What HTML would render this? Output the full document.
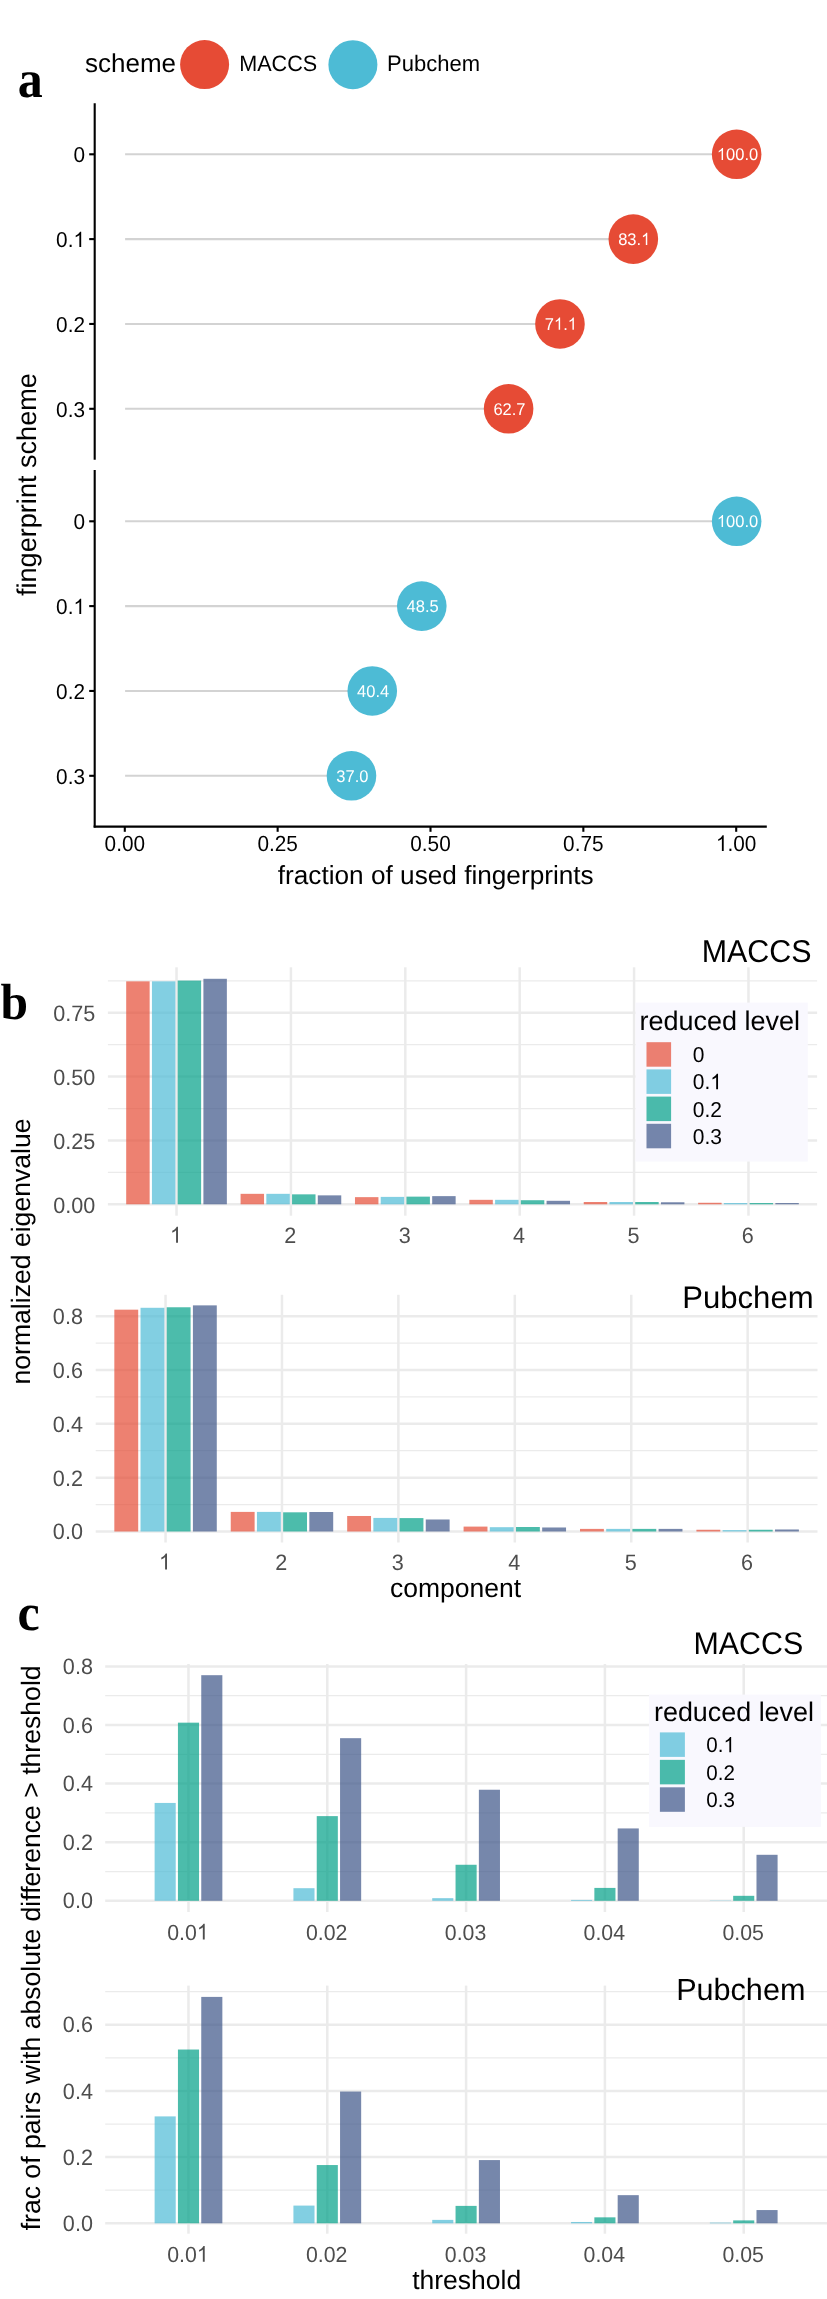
<!DOCTYPE html>
<html><head><meta charset="utf-8"><title>figure</title>
<style>
html,body{margin:0;padding:0;background:#fff;}
svg{display:block;will-change:transform;}
text{text-rendering:geometricPrecision;}
</style></head>
<body>
<svg width="827" height="2299" viewBox="0 0 827 2299">
<rect x="0" y="0" width="827" height="2299" fill="#fff"/>
<text x="0" y="0" text-anchor="start" fill="#000" style='font-family:"Liberation Serif", serif;font-size:50px;font-weight:bold' transform="translate(17.7,96.8) scale(1,1.06)">a</text>
<text x="0" y="0" text-anchor="start" fill="#000" style='font-family:"Liberation Serif", serif;font-size:49.5px;font-weight:bold' transform="translate(0.6,1018.8) scale(1,1.03)">b</text>
<text x="0" y="0" text-anchor="start" fill="#000" style='font-family:"Liberation Serif", serif;font-size:50px;font-weight:bold' transform="translate(17.4,1629.7) scale(1,1.04)">c</text>
<text x="85" y="72" text-anchor="start" fill="#000" style='font-family:"Liberation Sans", sans-serif;font-size:26px;font-weight:normal'>scheme</text>
<circle cx="204.6" cy="64.6" r="24.5" fill="#E64B35"/>
<text x="0" y="0" text-anchor="start" fill="#000" style='font-family:"Liberation Sans", sans-serif;font-size:21.6px;font-weight:normal' transform="translate(239.2,71) scale(1,1.03)">MACCS</text>
<circle cx="352.9" cy="64.7" r="24.5" fill="#4DBBD5"/>
<text x="0" y="0" text-anchor="start" fill="#000" style='font-family:"Liberation Sans", sans-serif;font-size:22px;font-weight:normal' transform="translate(387.1,70.7) scale(1,1.02)">Pubchem</text>
<line x1="94.7" y1="103.2" x2="94.7" y2="459.8" stroke="#000" stroke-width="2.1" stroke-linecap="butt"/>
<line x1="94.7" y1="470.1" x2="94.7" y2="827.6" stroke="#000" stroke-width="2.1" stroke-linecap="butt"/>
<line x1="93.65" y1="826.6" x2="766.8" y2="826.6" stroke="#000" stroke-width="2.1" stroke-linecap="butt"/>
<line x1="89.2" y1="154.3" x2="94.7" y2="154.3" stroke="#000" stroke-width="2.1" stroke-linecap="butt"/>
<text x="0" y="0" text-anchor="end" fill="#000" style='font-family:"Liberation Sans", sans-serif;font-size:20.8px;font-weight:normal' transform="translate(85,162.28) scale(1,1.03)">0</text>
<line x1="89.2" y1="239.1" x2="94.7" y2="239.1" stroke="#000" stroke-width="2.1" stroke-linecap="butt"/>
<g transform="translate(56.09,247.08) scale(1,1.03)"><text x="0" y="0" fill="#000" style='font-family:"Liberation Sans", sans-serif;font-size:20.8px'>0. </text><path d="M763 0L583 0L583 1147Q518 1085 412.5 1023Q307 961 223 930L223 1104Q374 1175 487 1276Q600 1377 647 1472L763 1472Z" fill="#000" transform="translate(17.35,0) scale(0.01016,-0.01016)"/></g>
<line x1="89.2" y1="323.95" x2="94.7" y2="323.95" stroke="#000" stroke-width="2.1" stroke-linecap="butt"/>
<text x="0" y="0" text-anchor="end" fill="#000" style='font-family:"Liberation Sans", sans-serif;font-size:20.8px;font-weight:normal' transform="translate(85,331.93) scale(1,1.03)">0.2</text>
<line x1="89.2" y1="408.8" x2="94.7" y2="408.8" stroke="#000" stroke-width="2.1" stroke-linecap="butt"/>
<text x="0" y="0" text-anchor="end" fill="#000" style='font-family:"Liberation Sans", sans-serif;font-size:20.8px;font-weight:normal' transform="translate(85,416.78) scale(1,1.03)">0.3</text>
<line x1="89.2" y1="521.3" x2="94.7" y2="521.3" stroke="#000" stroke-width="2.1" stroke-linecap="butt"/>
<text x="0" y="0" text-anchor="end" fill="#000" style='font-family:"Liberation Sans", sans-serif;font-size:20.8px;font-weight:normal' transform="translate(85,529.28) scale(1,1.03)">0</text>
<line x1="89.2" y1="606.1" x2="94.7" y2="606.1" stroke="#000" stroke-width="2.1" stroke-linecap="butt"/>
<g transform="translate(56.09,614.08) scale(1,1.03)"><text x="0" y="0" fill="#000" style='font-family:"Liberation Sans", sans-serif;font-size:20.8px'>0. </text><path d="M763 0L583 0L583 1147Q518 1085 412.5 1023Q307 961 223 930L223 1104Q374 1175 487 1276Q600 1377 647 1472L763 1472Z" fill="#000" transform="translate(17.35,0) scale(0.01016,-0.01016)"/></g>
<line x1="89.2" y1="690.95" x2="94.7" y2="690.95" stroke="#000" stroke-width="2.1" stroke-linecap="butt"/>
<text x="0" y="0" text-anchor="end" fill="#000" style='font-family:"Liberation Sans", sans-serif;font-size:20.8px;font-weight:normal' transform="translate(85,698.93) scale(1,1.03)">0.2</text>
<line x1="89.2" y1="775.8" x2="94.7" y2="775.8" stroke="#000" stroke-width="2.1" stroke-linecap="butt"/>
<text x="0" y="0" text-anchor="end" fill="#000" style='font-family:"Liberation Sans", sans-serif;font-size:20.8px;font-weight:normal' transform="translate(85,783.78) scale(1,1.03)">0.3</text>
<line x1="124.8" y1="826.6" x2="124.8" y2="831.8" stroke="#000" stroke-width="2.1" stroke-linecap="butt"/>
<text x="0" y="0" text-anchor="middle" fill="#000" style='font-family:"Liberation Sans", sans-serif;font-size:20.8px;font-weight:normal' transform="translate(124.8,851) scale(1,1.05)">0.00</text>
<line x1="277.65" y1="826.6" x2="277.65" y2="831.8" stroke="#000" stroke-width="2.1" stroke-linecap="butt"/>
<text x="0" y="0" text-anchor="middle" fill="#000" style='font-family:"Liberation Sans", sans-serif;font-size:20.8px;font-weight:normal' transform="translate(277.65,851) scale(1,1.05)">0.25</text>
<line x1="430.5" y1="826.6" x2="430.5" y2="831.8" stroke="#000" stroke-width="2.1" stroke-linecap="butt"/>
<text x="0" y="0" text-anchor="middle" fill="#000" style='font-family:"Liberation Sans", sans-serif;font-size:20.8px;font-weight:normal' transform="translate(430.5,851) scale(1,1.05)">0.50</text>
<line x1="583.35" y1="826.6" x2="583.35" y2="831.8" stroke="#000" stroke-width="2.1" stroke-linecap="butt"/>
<text x="0" y="0" text-anchor="middle" fill="#000" style='font-family:"Liberation Sans", sans-serif;font-size:20.8px;font-weight:normal' transform="translate(583.35,851) scale(1,1.05)">0.75</text>
<line x1="736.2" y1="826.6" x2="736.2" y2="831.8" stroke="#000" stroke-width="2.1" stroke-linecap="butt"/>
<g transform="translate(715.96,851) scale(1,1.05)"><text x="0" y="0" fill="#000" style='font-family:"Liberation Sans", sans-serif;font-size:20.8px'> .00</text><path d="M763 0L583 0L583 1147Q518 1085 412.5 1023Q307 961 223 930L223 1104Q374 1175 487 1276Q600 1377 647 1472L763 1472Z" fill="#000" transform="translate(0,0) scale(0.01016,-0.01016)"/></g>
<line x1="125.1" y1="154.3" x2="736.2" y2="154.3" stroke="#D3D3D3" stroke-width="2.1" stroke-linecap="butt"/>
<line x1="125.1" y1="239.1" x2="632.87" y2="239.1" stroke="#D3D3D3" stroke-width="2.1" stroke-linecap="butt"/>
<line x1="125.1" y1="323.95" x2="559.51" y2="323.95" stroke="#D3D3D3" stroke-width="2.1" stroke-linecap="butt"/>
<line x1="125.1" y1="408.8" x2="508.15" y2="408.8" stroke="#D3D3D3" stroke-width="2.1" stroke-linecap="butt"/>
<line x1="125.1" y1="521.3" x2="736.2" y2="521.3" stroke="#D3D3D3" stroke-width="2.1" stroke-linecap="butt"/>
<line x1="125.1" y1="606.1" x2="421.33" y2="606.1" stroke="#D3D3D3" stroke-width="2.1" stroke-linecap="butt"/>
<line x1="125.1" y1="690.95" x2="371.81" y2="690.95" stroke="#D3D3D3" stroke-width="2.1" stroke-linecap="butt"/>
<line x1="125.1" y1="775.8" x2="351.02" y2="775.8" stroke="#D3D3D3" stroke-width="2.1" stroke-linecap="butt"/>
<circle cx="736.65" cy="154.3" r="24.8" fill="#E64B35"/>
<g transform="translate(716.9,160.1) scale(1,1.03)"><text x="0" y="0" fill="#fff" style='font-family:"Liberation Sans", sans-serif;font-size:16.5px'> 00.0</text><path d="M763 0L583 0L583 1147Q518 1085 412.5 1023Q307 961 223 930L223 1104Q374 1175 487 1276Q600 1377 647 1472L763 1472Z" fill="#fff" transform="translate(0,0) scale(0.00806,-0.00806)"/></g>
<circle cx="633.32" cy="239.1" r="24.8" fill="#E64B35"/>
<g transform="translate(618.17,244.9) scale(1,1.03)"><text x="0" y="0" fill="#fff" style='font-family:"Liberation Sans", sans-serif;font-size:16.5px'>83. </text><path d="M763 0L583 0L583 1147Q518 1085 412.5 1023Q307 961 223 930L223 1104Q374 1175 487 1276Q600 1377 647 1472L763 1472Z" fill="#fff" transform="translate(22.94,0) scale(0.00806,-0.00806)"/></g>
<circle cx="559.96" cy="323.95" r="24.8" fill="#E64B35"/>
<g transform="translate(544.8,329.75) scale(1,1.03)"><text x="0" y="0" fill="#fff" style='font-family:"Liberation Sans", sans-serif;font-size:16.5px'>7 . </text><path d="M763 0L583 0L583 1147Q518 1085 412.5 1023Q307 961 223 930L223 1104Q374 1175 487 1276Q600 1377 647 1472L763 1472Z" fill="#fff" transform="translate(9.18,0) scale(0.00806,-0.00806)"/><path d="M763 0L583 0L583 1147Q518 1085 412.5 1023Q307 961 223 930L223 1104Q374 1175 487 1276Q600 1377 647 1472L763 1472Z" fill="#fff" transform="translate(22.94,0) scale(0.00806,-0.00806)"/></g>
<circle cx="508.6" cy="408.8" r="24.8" fill="#E64B35"/>
<text x="0" y="0" text-anchor="middle" fill="#fff" style='font-family:"Liberation Sans", sans-serif;font-size:16.5px;font-weight:normal' transform="translate(509.5,414.6) scale(1,1.03)">62.7</text>
<circle cx="736.65" cy="521.3" r="24.8" fill="#4DBBD5"/>
<g transform="translate(716.9,527.1) scale(1,1.03)"><text x="0" y="0" fill="#fff" style='font-family:"Liberation Sans", sans-serif;font-size:16.5px'> 00.0</text><path d="M763 0L583 0L583 1147Q518 1085 412.5 1023Q307 961 223 930L223 1104Q374 1175 487 1276Q600 1377 647 1472L763 1472Z" fill="#fff" transform="translate(0,0) scale(0.00806,-0.00806)"/></g>
<circle cx="421.78" cy="606.1" r="24.8" fill="#4DBBD5"/>
<text x="0" y="0" text-anchor="middle" fill="#fff" style='font-family:"Liberation Sans", sans-serif;font-size:16.5px;font-weight:normal' transform="translate(422.68,611.9) scale(1,1.03)">48.5</text>
<circle cx="372.26" cy="690.95" r="24.8" fill="#4DBBD5"/>
<text x="0" y="0" text-anchor="middle" fill="#fff" style='font-family:"Liberation Sans", sans-serif;font-size:16.5px;font-weight:normal' transform="translate(373.16,696.75) scale(1,1.03)">40.4</text>
<circle cx="351.47" cy="775.8" r="24.8" fill="#4DBBD5"/>
<text x="0" y="0" text-anchor="middle" fill="#fff" style='font-family:"Liberation Sans", sans-serif;font-size:16.5px;font-weight:normal' transform="translate(352.37,781.6) scale(1,1.03)">37.0</text>
<text x="277.8" y="883.8" text-anchor="start" fill="#000" style='font-family:"Liberation Sans", sans-serif;font-size:26.2px;font-weight:normal'>fraction of used fingerprints</text>
<text x="0" y="0" text-anchor="start" fill="#000" style='font-family:"Liberation Sans", sans-serif;font-size:27.1px;font-weight:normal' transform="translate(35.9,596.0) rotate(-90)">fingerprint scheme</text>
<line x1="107.9" y1="1172.38" x2="817.1" y2="1172.38" stroke="#EBEBEB" stroke-width="1.25" stroke-linecap="butt"/>
<line x1="107.9" y1="1108.52" x2="817.1" y2="1108.52" stroke="#EBEBEB" stroke-width="1.25" stroke-linecap="butt"/>
<line x1="107.9" y1="1044.67" x2="817.1" y2="1044.67" stroke="#EBEBEB" stroke-width="1.25" stroke-linecap="butt"/>
<line x1="107.9" y1="980.82" x2="817.1" y2="980.82" stroke="#EBEBEB" stroke-width="1.25" stroke-linecap="butt"/>
<line x1="107.9" y1="1204.3" x2="817.1" y2="1204.3" stroke="#EBEBEB" stroke-width="2.5" stroke-linecap="butt"/>
<line x1="107.9" y1="1140.45" x2="817.1" y2="1140.45" stroke="#EBEBEB" stroke-width="2.5" stroke-linecap="butt"/>
<line x1="107.9" y1="1076.6" x2="817.1" y2="1076.6" stroke="#EBEBEB" stroke-width="2.5" stroke-linecap="butt"/>
<line x1="107.9" y1="1012.75" x2="817.1" y2="1012.75" stroke="#EBEBEB" stroke-width="2.5" stroke-linecap="butt"/>
<line x1="176.53" y1="967.3" x2="176.53" y2="1215.7" stroke="#EBEBEB" stroke-width="2.5" stroke-linecap="butt"/>
<line x1="290.92" y1="967.3" x2="290.92" y2="1215.7" stroke="#EBEBEB" stroke-width="2.5" stroke-linecap="butt"/>
<line x1="405.31" y1="967.3" x2="405.31" y2="1215.7" stroke="#EBEBEB" stroke-width="2.5" stroke-linecap="butt"/>
<line x1="519.69" y1="967.3" x2="519.69" y2="1215.7" stroke="#EBEBEB" stroke-width="2.5" stroke-linecap="butt"/>
<line x1="634.08" y1="967.3" x2="634.08" y2="1215.7" stroke="#EBEBEB" stroke-width="2.5" stroke-linecap="butt"/>
<line x1="748.47" y1="967.3" x2="748.47" y2="1215.7" stroke="#EBEBEB" stroke-width="2.5" stroke-linecap="butt"/>
<text x="0" y="0" text-anchor="end" fill="#000" style='font-family:"Liberation Sans", sans-serif;font-size:30.4px;font-weight:normal' transform="translate(811.5,962.2) scale(1,1.04)">MACCS</text>
<rect x="126.2" y="981.34" width="23.45" height="222.96" fill="#E64B35" fill-opacity="0.7"/>
<rect x="151.94" y="981.34" width="23.45" height="222.96" fill="#4DBBD5" fill-opacity="0.7"/>
<rect x="177.68" y="980.57" width="23.45" height="223.73" fill="#00A087" fill-opacity="0.7"/>
<rect x="203.41" y="978.78" width="23.45" height="225.52" fill="#3C5488" fill-opacity="0.7"/>
<rect x="240.59" y="1193.83" width="23.45" height="10.47" fill="#E64B35" fill-opacity="0.7"/>
<rect x="266.33" y="1193.83" width="23.45" height="10.47" fill="#4DBBD5" fill-opacity="0.7"/>
<rect x="292.06" y="1194.34" width="23.45" height="9.96" fill="#00A087" fill-opacity="0.7"/>
<rect x="317.8" y="1195.36" width="23.45" height="8.94" fill="#3C5488" fill-opacity="0.7"/>
<rect x="354.98" y="1197.15" width="23.45" height="7.15" fill="#E64B35" fill-opacity="0.7"/>
<rect x="380.71" y="1196.89" width="23.45" height="7.41" fill="#4DBBD5" fill-opacity="0.7"/>
<rect x="406.45" y="1196.64" width="23.45" height="7.66" fill="#00A087" fill-opacity="0.7"/>
<rect x="432.19" y="1196.13" width="23.45" height="8.17" fill="#3C5488" fill-opacity="0.7"/>
<rect x="469.36" y="1199.83" width="23.45" height="4.47" fill="#E64B35" fill-opacity="0.7"/>
<rect x="495.1" y="1199.83" width="23.45" height="4.47" fill="#4DBBD5" fill-opacity="0.7"/>
<rect x="520.84" y="1200.21" width="23.45" height="4.09" fill="#00A087" fill-opacity="0.7"/>
<rect x="546.57" y="1200.8" width="23.45" height="3.5" fill="#3C5488" fill-opacity="0.7"/>
<rect x="583.75" y="1202" width="23.45" height="2.3" fill="#E64B35" fill-opacity="0.7"/>
<rect x="609.49" y="1202" width="23.45" height="2.3" fill="#4DBBD5" fill-opacity="0.7"/>
<rect x="635.22" y="1202" width="23.45" height="2.3" fill="#00A087" fill-opacity="0.7"/>
<rect x="660.96" y="1202.26" width="23.45" height="2.04" fill="#3C5488" fill-opacity="0.7"/>
<rect x="698.14" y="1202.77" width="23.45" height="1.53" fill="#E64B35" fill-opacity="0.7"/>
<rect x="723.87" y="1203.02" width="23.45" height="1.28" fill="#4DBBD5" fill-opacity="0.7"/>
<rect x="749.61" y="1203.02" width="23.45" height="1.28" fill="#00A087" fill-opacity="0.7"/>
<rect x="775.35" y="1203.02" width="23.45" height="1.28" fill="#3C5488" fill-opacity="0.7"/>
<text x="0" y="0" text-anchor="end" fill="#4D4D4D" style='font-family:"Liberation Sans", sans-serif;font-size:21.6px;font-weight:normal' transform="translate(95.3,1212.55) scale(1,1.03)">0.00</text>
<text x="0" y="0" text-anchor="end" fill="#4D4D4D" style='font-family:"Liberation Sans", sans-serif;font-size:21.6px;font-weight:normal' transform="translate(95.3,1148.7) scale(1,1.03)">0.25</text>
<text x="0" y="0" text-anchor="end" fill="#4D4D4D" style='font-family:"Liberation Sans", sans-serif;font-size:21.6px;font-weight:normal' transform="translate(95.3,1084.85) scale(1,1.03)">0.50</text>
<text x="0" y="0" text-anchor="end" fill="#4D4D4D" style='font-family:"Liberation Sans", sans-serif;font-size:21.6px;font-weight:normal' transform="translate(95.3,1021) scale(1,1.03)">0.75</text>
<g transform="translate(169.93,1242.8) scale(1,1.03)"><text x="0" y="0" fill="#4D4D4D" style='font-family:"Liberation Sans", sans-serif;font-size:21.6px'> </text><path d="M763 0L583 0L583 1147Q518 1085 412.5 1023Q307 961 223 930L223 1104Q374 1175 487 1276Q600 1377 647 1472L763 1472Z" fill="#4D4D4D" transform="translate(0,0) scale(0.01055,-0.01055)"/></g>
<text x="0" y="0" text-anchor="middle" fill="#4D4D4D" style='font-family:"Liberation Sans", sans-serif;font-size:21.6px;font-weight:normal' transform="translate(290.32,1242.8) scale(1,1.03)">2</text>
<text x="0" y="0" text-anchor="middle" fill="#4D4D4D" style='font-family:"Liberation Sans", sans-serif;font-size:21.6px;font-weight:normal' transform="translate(404.71,1242.8) scale(1,1.03)">3</text>
<text x="0" y="0" text-anchor="middle" fill="#4D4D4D" style='font-family:"Liberation Sans", sans-serif;font-size:21.6px;font-weight:normal' transform="translate(519.09,1242.8) scale(1,1.03)">4</text>
<text x="0" y="0" text-anchor="middle" fill="#4D4D4D" style='font-family:"Liberation Sans", sans-serif;font-size:21.6px;font-weight:normal' transform="translate(633.48,1242.8) scale(1,1.03)">5</text>
<text x="0" y="0" text-anchor="middle" fill="#4D4D4D" style='font-family:"Liberation Sans", sans-serif;font-size:21.6px;font-weight:normal' transform="translate(747.87,1242.8) scale(1,1.03)">6</text>
<rect x="635.5" y="1002.6" width="172.3" height="159" fill="#F9F8FE"/>
<text x="639.4" y="1030.3" text-anchor="start" fill="#000" style='font-family:"Liberation Sans", sans-serif;font-size:27px;font-weight:normal'>reduced level</text>
<rect x="646.5" y="1042.2" width="24.6" height="24.5" fill="#E64B35" fill-opacity="0.7"/>
<text x="0" y="0" text-anchor="start" fill="#000" style='font-family:"Liberation Sans", sans-serif;font-size:21px;font-weight:normal' transform="translate(692.7,1062.1) scale(1,1.03)">0</text>
<rect x="646.5" y="1069.4" width="24.6" height="24.5" fill="#4DBBD5" fill-opacity="0.7"/>
<g transform="translate(692.7,1089.3) scale(1,1.03)"><text x="0" y="0" fill="#000" style='font-family:"Liberation Sans", sans-serif;font-size:21px'>0. </text><path d="M763 0L583 0L583 1147Q518 1085 412.5 1023Q307 961 223 930L223 1104Q374 1175 487 1276Q600 1377 647 1472L763 1472Z" fill="#000" transform="translate(17.51,0) scale(0.01025,-0.01025)"/></g>
<rect x="646.5" y="1096.6" width="24.6" height="24.5" fill="#00A087" fill-opacity="0.7"/>
<text x="0" y="0" text-anchor="start" fill="#000" style='font-family:"Liberation Sans", sans-serif;font-size:21px;font-weight:normal' transform="translate(692.7,1116.5) scale(1,1.03)">0.2</text>
<rect x="646.5" y="1123.8" width="24.6" height="24.5" fill="#3C5488" fill-opacity="0.7"/>
<text x="0" y="0" text-anchor="start" fill="#000" style='font-family:"Liberation Sans", sans-serif;font-size:21px;font-weight:normal' transform="translate(692.7,1143.69) scale(1,1.03)">0.3</text>
<line x1="95.7" y1="1504.58" x2="817.5" y2="1504.58" stroke="#EBEBEB" stroke-width="1.25" stroke-linecap="butt"/>
<line x1="95.7" y1="1450.74" x2="817.5" y2="1450.74" stroke="#EBEBEB" stroke-width="1.25" stroke-linecap="butt"/>
<line x1="95.7" y1="1396.9" x2="817.5" y2="1396.9" stroke="#EBEBEB" stroke-width="1.25" stroke-linecap="butt"/>
<line x1="95.7" y1="1343.06" x2="817.5" y2="1343.06" stroke="#EBEBEB" stroke-width="1.25" stroke-linecap="butt"/>
<line x1="95.7" y1="1531.5" x2="817.5" y2="1531.5" stroke="#EBEBEB" stroke-width="2.5" stroke-linecap="butt"/>
<line x1="95.7" y1="1477.66" x2="817.5" y2="1477.66" stroke="#EBEBEB" stroke-width="2.5" stroke-linecap="butt"/>
<line x1="95.7" y1="1423.82" x2="817.5" y2="1423.82" stroke="#EBEBEB" stroke-width="2.5" stroke-linecap="butt"/>
<line x1="95.7" y1="1369.98" x2="817.5" y2="1369.98" stroke="#EBEBEB" stroke-width="2.5" stroke-linecap="butt"/>
<line x1="95.7" y1="1316.14" x2="817.5" y2="1316.14" stroke="#EBEBEB" stroke-width="2.5" stroke-linecap="butt"/>
<line x1="165.55" y1="1294.8" x2="165.55" y2="1542.5" stroke="#EBEBEB" stroke-width="2.5" stroke-linecap="butt"/>
<line x1="281.97" y1="1294.8" x2="281.97" y2="1542.5" stroke="#EBEBEB" stroke-width="2.5" stroke-linecap="butt"/>
<line x1="398.39" y1="1294.8" x2="398.39" y2="1542.5" stroke="#EBEBEB" stroke-width="2.5" stroke-linecap="butt"/>
<line x1="514.81" y1="1294.8" x2="514.81" y2="1542.5" stroke="#EBEBEB" stroke-width="2.5" stroke-linecap="butt"/>
<line x1="631.23" y1="1294.8" x2="631.23" y2="1542.5" stroke="#EBEBEB" stroke-width="2.5" stroke-linecap="butt"/>
<line x1="747.65" y1="1294.8" x2="747.65" y2="1542.5" stroke="#EBEBEB" stroke-width="2.5" stroke-linecap="butt"/>
<text x="813.6" y="1308" text-anchor="end" fill="#000" style='font-family:"Liberation Sans", sans-serif;font-size:31.1px;font-weight:normal'>Pubchem</text>
<rect x="114.33" y="1309.68" width="23.87" height="221.82" fill="#E64B35" fill-opacity="0.7"/>
<rect x="140.52" y="1307.79" width="23.87" height="223.71" fill="#4DBBD5" fill-opacity="0.7"/>
<rect x="166.72" y="1307.26" width="23.87" height="224.24" fill="#00A087" fill-opacity="0.7"/>
<rect x="192.91" y="1305.37" width="23.87" height="226.13" fill="#3C5488" fill-opacity="0.7"/>
<rect x="230.75" y="1511.9" width="23.87" height="19.6" fill="#E64B35" fill-opacity="0.7"/>
<rect x="256.94" y="1511.9" width="23.87" height="19.6" fill="#4DBBD5" fill-opacity="0.7"/>
<rect x="283.14" y="1512.31" width="23.87" height="19.19" fill="#00A087" fill-opacity="0.7"/>
<rect x="309.33" y="1512.01" width="23.87" height="19.49" fill="#3C5488" fill-opacity="0.7"/>
<rect x="347.17" y="1515.99" width="23.87" height="15.51" fill="#E64B35" fill-opacity="0.7"/>
<rect x="373.36" y="1517.91" width="23.87" height="13.59" fill="#4DBBD5" fill-opacity="0.7"/>
<rect x="399.55" y="1518.09" width="23.87" height="13.41" fill="#00A087" fill-opacity="0.7"/>
<rect x="425.75" y="1519.49" width="23.87" height="12.01" fill="#3C5488" fill-opacity="0.7"/>
<rect x="463.59" y="1526.6" width="23.87" height="4.9" fill="#E64B35" fill-opacity="0.7"/>
<rect x="489.78" y="1527.19" width="23.87" height="4.31" fill="#4DBBD5" fill-opacity="0.7"/>
<rect x="515.97" y="1527" width="23.87" height="4.5" fill="#00A087" fill-opacity="0.7"/>
<rect x="542.17" y="1527.49" width="23.87" height="4.01" fill="#3C5488" fill-opacity="0.7"/>
<rect x="580" y="1528.89" width="23.87" height="2.61" fill="#E64B35" fill-opacity="0.7"/>
<rect x="606.2" y="1528.89" width="23.87" height="2.61" fill="#4DBBD5" fill-opacity="0.7"/>
<rect x="632.39" y="1528.89" width="23.87" height="2.61" fill="#00A087" fill-opacity="0.7"/>
<rect x="658.59" y="1528.89" width="23.87" height="2.61" fill="#3C5488" fill-opacity="0.7"/>
<rect x="696.42" y="1529.75" width="23.87" height="1.75" fill="#E64B35" fill-opacity="0.7"/>
<rect x="722.62" y="1530.1" width="23.87" height="1.4" fill="#4DBBD5" fill-opacity="0.7"/>
<rect x="748.81" y="1529.75" width="23.87" height="1.75" fill="#00A087" fill-opacity="0.7"/>
<rect x="775.01" y="1529.48" width="23.87" height="2.02" fill="#3C5488" fill-opacity="0.7"/>
<text x="0" y="0" text-anchor="end" fill="#4D4D4D" style='font-family:"Liberation Sans", sans-serif;font-size:21.6px;font-weight:normal' transform="translate(82.9,1539.35) scale(1,1.03)">0.0</text>
<text x="0" y="0" text-anchor="end" fill="#4D4D4D" style='font-family:"Liberation Sans", sans-serif;font-size:21.6px;font-weight:normal' transform="translate(82.9,1485.51) scale(1,1.03)">0.2</text>
<text x="0" y="0" text-anchor="end" fill="#4D4D4D" style='font-family:"Liberation Sans", sans-serif;font-size:21.6px;font-weight:normal' transform="translate(82.9,1431.67) scale(1,1.03)">0.4</text>
<text x="0" y="0" text-anchor="end" fill="#4D4D4D" style='font-family:"Liberation Sans", sans-serif;font-size:21.6px;font-weight:normal' transform="translate(82.9,1377.83) scale(1,1.03)">0.6</text>
<text x="0" y="0" text-anchor="end" fill="#4D4D4D" style='font-family:"Liberation Sans", sans-serif;font-size:21.6px;font-weight:normal' transform="translate(82.9,1323.99) scale(1,1.03)">0.8</text>
<g transform="translate(158.95,1569.5) scale(1,1.03)"><text x="0" y="0" fill="#4D4D4D" style='font-family:"Liberation Sans", sans-serif;font-size:21.6px'> </text><path d="M763 0L583 0L583 1147Q518 1085 412.5 1023Q307 961 223 930L223 1104Q374 1175 487 1276Q600 1377 647 1472L763 1472Z" fill="#4D4D4D" transform="translate(0,0) scale(0.01055,-0.01055)"/></g>
<text x="0" y="0" text-anchor="middle" fill="#4D4D4D" style='font-family:"Liberation Sans", sans-serif;font-size:21.6px;font-weight:normal' transform="translate(281.37,1569.5) scale(1,1.03)">2</text>
<text x="0" y="0" text-anchor="middle" fill="#4D4D4D" style='font-family:"Liberation Sans", sans-serif;font-size:21.6px;font-weight:normal' transform="translate(397.79,1569.5) scale(1,1.03)">3</text>
<text x="0" y="0" text-anchor="middle" fill="#4D4D4D" style='font-family:"Liberation Sans", sans-serif;font-size:21.6px;font-weight:normal' transform="translate(514.21,1569.5) scale(1,1.03)">4</text>
<text x="0" y="0" text-anchor="middle" fill="#4D4D4D" style='font-family:"Liberation Sans", sans-serif;font-size:21.6px;font-weight:normal' transform="translate(630.63,1569.5) scale(1,1.03)">5</text>
<text x="0" y="0" text-anchor="middle" fill="#4D4D4D" style='font-family:"Liberation Sans", sans-serif;font-size:21.6px;font-weight:normal' transform="translate(747.05,1569.5) scale(1,1.03)">6</text>
<text x="455.6" y="1596.9" text-anchor="middle" fill="#000" style='font-family:"Liberation Sans", sans-serif;font-size:26.5px;font-weight:normal'>component</text>
<text x="0" y="0" text-anchor="middle" fill="#000" style='font-family:"Liberation Sans", sans-serif;font-size:26.6px;font-weight:normal' transform="translate(30.0,1251.5) rotate(-90)">normalized eigenvalue</text>
<line x1="105.2" y1="1871.5" x2="827" y2="1871.5" stroke="#EBEBEB" stroke-width="1.25" stroke-linecap="butt"/>
<line x1="105.2" y1="1812.9" x2="827" y2="1812.9" stroke="#EBEBEB" stroke-width="1.25" stroke-linecap="butt"/>
<line x1="105.2" y1="1754.3" x2="827" y2="1754.3" stroke="#EBEBEB" stroke-width="1.25" stroke-linecap="butt"/>
<line x1="105.2" y1="1695.7" x2="827" y2="1695.7" stroke="#EBEBEB" stroke-width="1.25" stroke-linecap="butt"/>
<line x1="105.2" y1="1900.8" x2="827" y2="1900.8" stroke="#EBEBEB" stroke-width="2.5" stroke-linecap="butt"/>
<line x1="105.2" y1="1842.2" x2="827" y2="1842.2" stroke="#EBEBEB" stroke-width="2.5" stroke-linecap="butt"/>
<line x1="105.2" y1="1783.6" x2="827" y2="1783.6" stroke="#EBEBEB" stroke-width="2.5" stroke-linecap="butt"/>
<line x1="105.2" y1="1725" x2="827" y2="1725" stroke="#EBEBEB" stroke-width="2.5" stroke-linecap="butt"/>
<line x1="105.2" y1="1666.4" x2="827" y2="1666.4" stroke="#EBEBEB" stroke-width="2.5" stroke-linecap="butt"/>
<line x1="188.48" y1="1664" x2="188.48" y2="1912" stroke="#EBEBEB" stroke-width="2.5" stroke-linecap="butt"/>
<line x1="327.29" y1="1664" x2="327.29" y2="1912" stroke="#EBEBEB" stroke-width="2.5" stroke-linecap="butt"/>
<line x1="466.1" y1="1664" x2="466.1" y2="1912" stroke="#EBEBEB" stroke-width="2.5" stroke-linecap="butt"/>
<line x1="604.91" y1="1664" x2="604.91" y2="1912" stroke="#EBEBEB" stroke-width="2.5" stroke-linecap="butt"/>
<line x1="743.72" y1="1664" x2="743.72" y2="1912" stroke="#EBEBEB" stroke-width="2.5" stroke-linecap="butt"/>
<text x="0" y="0" text-anchor="end" fill="#000" style='font-family:"Liberation Sans", sans-serif;font-size:30.4px;font-weight:normal' transform="translate(803.2,1653.5) scale(1,1.03)">MACCS</text>
<rect x="154.62" y="1802.94" width="21.1" height="97.86" fill="#4DBBD5" fill-opacity="0.7"/>
<rect x="177.94" y="1722.66" width="21.1" height="178.14" fill="#00A087" fill-opacity="0.7"/>
<rect x="201.25" y="1675.19" width="21.1" height="225.61" fill="#3C5488" fill-opacity="0.7"/>
<rect x="293.42" y="1888.2" width="21.1" height="12.6" fill="#4DBBD5" fill-opacity="0.7"/>
<rect x="316.74" y="1816.12" width="21.1" height="84.68" fill="#00A087" fill-opacity="0.7"/>
<rect x="340.06" y="1738.18" width="21.1" height="162.62" fill="#3C5488" fill-opacity="0.7"/>
<rect x="432.23" y="1898.16" width="21.1" height="2.64" fill="#4DBBD5" fill-opacity="0.7"/>
<rect x="455.55" y="1864.76" width="21.1" height="36.04" fill="#00A087" fill-opacity="0.7"/>
<rect x="478.87" y="1789.75" width="21.1" height="111.05" fill="#3C5488" fill-opacity="0.7"/>
<rect x="571.04" y="1899.92" width="21.1" height="0.88" fill="#4DBBD5" fill-opacity="0.7"/>
<rect x="594.36" y="1887.91" width="21.1" height="12.89" fill="#00A087" fill-opacity="0.7"/>
<rect x="617.68" y="1828.43" width="21.1" height="72.37" fill="#3C5488" fill-opacity="0.7"/>
<rect x="709.85" y="1900.51" width="21.1" height="0.29" fill="#4DBBD5" fill-opacity="0.7"/>
<rect x="733.17" y="1895.82" width="21.1" height="4.98" fill="#00A087" fill-opacity="0.7"/>
<rect x="756.49" y="1854.8" width="21.1" height="46" fill="#3C5488" fill-opacity="0.7"/>
<text x="0" y="0" text-anchor="end" fill="#4D4D4D" style='font-family:"Liberation Sans", sans-serif;font-size:21.6px;font-weight:normal' transform="translate(92.9,1908.45) scale(1,1.03)">0.0</text>
<text x="0" y="0" text-anchor="end" fill="#4D4D4D" style='font-family:"Liberation Sans", sans-serif;font-size:21.6px;font-weight:normal' transform="translate(92.9,1849.85) scale(1,1.03)">0.2</text>
<text x="0" y="0" text-anchor="end" fill="#4D4D4D" style='font-family:"Liberation Sans", sans-serif;font-size:21.6px;font-weight:normal' transform="translate(92.9,1791.25) scale(1,1.03)">0.4</text>
<text x="0" y="0" text-anchor="end" fill="#4D4D4D" style='font-family:"Liberation Sans", sans-serif;font-size:21.6px;font-weight:normal' transform="translate(92.9,1732.65) scale(1,1.03)">0.6</text>
<text x="0" y="0" text-anchor="end" fill="#4D4D4D" style='font-family:"Liberation Sans", sans-serif;font-size:21.6px;font-weight:normal' transform="translate(92.9,1674.05) scale(1,1.03)">0.8</text>
<g transform="translate(167.16,1939.5) scale(1,1.03)"><text x="0" y="0" fill="#4D4D4D" style='font-family:"Liberation Sans", sans-serif;font-size:21.3px'>0.0 </text><path d="M763 0L583 0L583 1147Q518 1085 412.5 1023Q307 961 223 930L223 1104Q374 1175 487 1276Q600 1377 647 1472L763 1472Z" fill="#4D4D4D" transform="translate(29.61,0) scale(0.01040,-0.01040)"/></g>
<text x="0" y="0" text-anchor="middle" fill="#4D4D4D" style='font-family:"Liberation Sans", sans-serif;font-size:21.3px;font-weight:normal' transform="translate(326.69,1939.5) scale(1,1.03)">0.02</text>
<text x="0" y="0" text-anchor="middle" fill="#4D4D4D" style='font-family:"Liberation Sans", sans-serif;font-size:21.3px;font-weight:normal' transform="translate(465.5,1939.5) scale(1,1.03)">0.03</text>
<text x="0" y="0" text-anchor="middle" fill="#4D4D4D" style='font-family:"Liberation Sans", sans-serif;font-size:21.3px;font-weight:normal' transform="translate(604.31,1939.5) scale(1,1.03)">0.04</text>
<text x="0" y="0" text-anchor="middle" fill="#4D4D4D" style='font-family:"Liberation Sans", sans-serif;font-size:21.3px;font-weight:normal' transform="translate(743.12,1939.5) scale(1,1.03)">0.05</text>
<rect x="649" y="1694.6" width="171.9" height="132.3" fill="#F9F8FE"/>
<text x="654" y="1720.6" text-anchor="start" fill="#000" style='font-family:"Liberation Sans", sans-serif;font-size:26.9px;font-weight:normal'>reduced level</text>
<rect x="659.9" y="1732.4" width="25" height="24.5" fill="#4DBBD5" fill-opacity="0.7"/>
<g transform="translate(706.3,1752.16) scale(1,1.03)"><text x="0" y="0" fill="#000" style='font-family:"Liberation Sans", sans-serif;font-size:20.6px'>0. </text><path d="M763 0L583 0L583 1147Q518 1085 412.5 1023Q307 961 223 930L223 1104Q374 1175 487 1276Q600 1377 647 1472L763 1472Z" fill="#000" transform="translate(17.18,0) scale(0.01006,-0.01006)"/></g>
<rect x="659.9" y="1759.85" width="25" height="24.5" fill="#00A087" fill-opacity="0.7"/>
<text x="0" y="0" text-anchor="start" fill="#000" style='font-family:"Liberation Sans", sans-serif;font-size:20.6px;font-weight:normal' transform="translate(706.3,1779.61) scale(1,1.03)">0.2</text>
<rect x="659.9" y="1787.3" width="25" height="24.5" fill="#3C5488" fill-opacity="0.7"/>
<text x="0" y="0" text-anchor="start" fill="#000" style='font-family:"Liberation Sans", sans-serif;font-size:20.6px;font-weight:normal' transform="translate(706.3,1807.06) scale(1,1.03)">0.3</text>
<line x1="105.2" y1="2190.2" x2="827" y2="2190.2" stroke="#EBEBEB" stroke-width="1.25" stroke-linecap="butt"/>
<line x1="105.2" y1="2124" x2="827" y2="2124" stroke="#EBEBEB" stroke-width="1.25" stroke-linecap="butt"/>
<line x1="105.2" y1="2057.8" x2="827" y2="2057.8" stroke="#EBEBEB" stroke-width="1.25" stroke-linecap="butt"/>
<line x1="105.2" y1="1991.6" x2="827" y2="1991.6" stroke="#EBEBEB" stroke-width="1.25" stroke-linecap="butt"/>
<line x1="105.2" y1="2223.3" x2="827" y2="2223.3" stroke="#EBEBEB" stroke-width="2.5" stroke-linecap="butt"/>
<line x1="105.2" y1="2157.1" x2="827" y2="2157.1" stroke="#EBEBEB" stroke-width="2.5" stroke-linecap="butt"/>
<line x1="105.2" y1="2090.9" x2="827" y2="2090.9" stroke="#EBEBEB" stroke-width="2.5" stroke-linecap="butt"/>
<line x1="105.2" y1="2024.7" x2="827" y2="2024.7" stroke="#EBEBEB" stroke-width="2.5" stroke-linecap="butt"/>
<line x1="188.48" y1="1985.6" x2="188.48" y2="2233.7" stroke="#EBEBEB" stroke-width="2.5" stroke-linecap="butt"/>
<line x1="327.29" y1="1985.6" x2="327.29" y2="2233.7" stroke="#EBEBEB" stroke-width="2.5" stroke-linecap="butt"/>
<line x1="466.1" y1="1985.6" x2="466.1" y2="2233.7" stroke="#EBEBEB" stroke-width="2.5" stroke-linecap="butt"/>
<line x1="604.91" y1="1985.6" x2="604.91" y2="2233.7" stroke="#EBEBEB" stroke-width="2.5" stroke-linecap="butt"/>
<line x1="743.72" y1="1985.6" x2="743.72" y2="2233.7" stroke="#EBEBEB" stroke-width="2.5" stroke-linecap="butt"/>
<text x="805.4" y="1999.5" text-anchor="end" fill="#000" style='font-family:"Liberation Sans", sans-serif;font-size:30.6px;font-weight:normal'>Pubchem</text>
<rect x="154.62" y="2116.39" width="21.1" height="106.91" fill="#4DBBD5" fill-opacity="0.7"/>
<rect x="177.94" y="2049.53" width="21.1" height="173.78" fill="#00A087" fill-opacity="0.7"/>
<rect x="201.25" y="1996.9" width="21.1" height="226.4" fill="#3C5488" fill-opacity="0.7"/>
<rect x="293.42" y="2205.59" width="21.1" height="17.71" fill="#4DBBD5" fill-opacity="0.7"/>
<rect x="316.74" y="2165.04" width="21.1" height="58.26" fill="#00A087" fill-opacity="0.7"/>
<rect x="340.06" y="2091.56" width="21.1" height="131.74" fill="#3C5488" fill-opacity="0.7"/>
<rect x="432.23" y="2219.89" width="21.1" height="3.41" fill="#4DBBD5" fill-opacity="0.7"/>
<rect x="455.55" y="2205.89" width="21.1" height="17.41" fill="#00A087" fill-opacity="0.7"/>
<rect x="478.87" y="2160.08" width="21.1" height="63.22" fill="#3C5488" fill-opacity="0.7"/>
<rect x="571.04" y="2221.98" width="21.1" height="1.32" fill="#4DBBD5" fill-opacity="0.7"/>
<rect x="594.36" y="2217.34" width="21.1" height="5.96" fill="#00A087" fill-opacity="0.7"/>
<rect x="617.68" y="2195.16" width="21.1" height="28.14" fill="#3C5488" fill-opacity="0.7"/>
<rect x="709.85" y="2222.64" width="21.1" height="0.66" fill="#4DBBD5" fill-opacity="0.7"/>
<rect x="733.17" y="2220.39" width="21.1" height="2.91" fill="#00A087" fill-opacity="0.7"/>
<rect x="756.49" y="2210.06" width="21.1" height="13.24" fill="#3C5488" fill-opacity="0.7"/>
<text x="0" y="0" text-anchor="end" fill="#4D4D4D" style='font-family:"Liberation Sans", sans-serif;font-size:21.6px;font-weight:normal' transform="translate(92.9,2230.95) scale(1,1.03)">0.0</text>
<text x="0" y="0" text-anchor="end" fill="#4D4D4D" style='font-family:"Liberation Sans", sans-serif;font-size:21.6px;font-weight:normal' transform="translate(92.9,2164.75) scale(1,1.03)">0.2</text>
<text x="0" y="0" text-anchor="end" fill="#4D4D4D" style='font-family:"Liberation Sans", sans-serif;font-size:21.6px;font-weight:normal' transform="translate(92.9,2098.55) scale(1,1.03)">0.4</text>
<text x="0" y="0" text-anchor="end" fill="#4D4D4D" style='font-family:"Liberation Sans", sans-serif;font-size:21.6px;font-weight:normal' transform="translate(92.9,2032.35) scale(1,1.03)">0.6</text>
<g transform="translate(167.16,2261.8) scale(1,1.03)"><text x="0" y="0" fill="#4D4D4D" style='font-family:"Liberation Sans", sans-serif;font-size:21.3px'>0.0 </text><path d="M763 0L583 0L583 1147Q518 1085 412.5 1023Q307 961 223 930L223 1104Q374 1175 487 1276Q600 1377 647 1472L763 1472Z" fill="#4D4D4D" transform="translate(29.61,0) scale(0.01040,-0.01040)"/></g>
<text x="0" y="0" text-anchor="middle" fill="#4D4D4D" style='font-family:"Liberation Sans", sans-serif;font-size:21.3px;font-weight:normal' transform="translate(326.69,2261.8) scale(1,1.03)">0.02</text>
<text x="0" y="0" text-anchor="middle" fill="#4D4D4D" style='font-family:"Liberation Sans", sans-serif;font-size:21.3px;font-weight:normal' transform="translate(465.5,2261.8) scale(1,1.03)">0.03</text>
<text x="0" y="0" text-anchor="middle" fill="#4D4D4D" style='font-family:"Liberation Sans", sans-serif;font-size:21.3px;font-weight:normal' transform="translate(604.31,2261.8) scale(1,1.03)">0.04</text>
<text x="0" y="0" text-anchor="middle" fill="#4D4D4D" style='font-family:"Liberation Sans", sans-serif;font-size:21.3px;font-weight:normal' transform="translate(743.12,2261.8) scale(1,1.03)">0.05</text>
<text x="466.7" y="2289.2" text-anchor="middle" fill="#000" style='font-family:"Liberation Sans", sans-serif;font-size:26.5px;font-weight:normal'>threshold</text>
<text x="0" y="0" text-anchor="middle" fill="#000" style='font-family:"Liberation Sans", sans-serif;font-size:26.6px;font-weight:normal' transform="translate(39.9,1947.9) rotate(-90)">frac of pairs with absolute difference &gt; threshold</text>
</svg>
</body></html>
